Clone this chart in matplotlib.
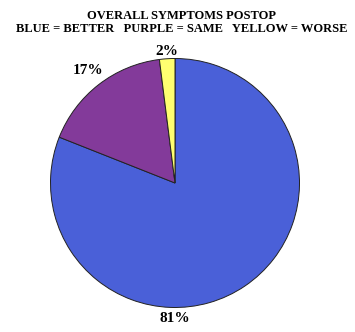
import numpy as np
import matplotlib
matplotlib.use("Agg")
import matplotlib.pyplot as plt

# -------------------------------
# data
# -------------------------------
categories = ["BETTER", "SAME", "WORSE"]
shares = [81, 17, 2]
labels = ["81%", "17%", "2%"]
colors = ["#4a60d8", "#833a9a", "#ffff70"]
# label placement: angle (deg, math convention; None = wedge middle), radius factor
label_angle = [-90, None, None]
label_dist = [1.09, 1.14, 1.06]

W, H = 355, 332
fig = plt.figure(figsize=(W / 100, H / 100), dpi=100)
ax = fig.add_axes([0, 0, 1, 1])

cx, cy, r = 175, H - 183, 124.5
wedges, _ = ax.pie(shares, colors=colors, startangle=90, counterclock=False,
                   center=(cx, cy), radius=r, frame=True,
                   wedgeprops=dict(edgecolor="#222222", linewidth=0.7))
ax.set_xlim(0, W)
ax.set_ylim(0, H)
ax.set_aspect("equal")
ax.axis("off")

font = dict(family="Liberation Serif", fontweight="bold", fontsize=11)
for w, lab, a, d in zip(wedges, labels, label_angle, label_dist):
    if a is None:
        a = (w.theta1 + w.theta2) / 2
    ang = np.deg2rad(a)
    ax.text(cx + r * d * np.cos(ang), cy + r * d * np.sin(ang), lab,
            ha="center", va="center", **font)

tfont = dict(family="Liberation Serif", fontweight="bold", fontsize=9)
ax.text(181.5, H - 16, "OVERALL SYMPTOMS POSTOP", ha="center", va="center", **tfont)
ax.text(181.5, H - 29, "BLUE = BETTER   PURPLE = SAME   YELLOW = WORSE",
        ha="center", va="center", **tfont)

fig.savefig("out.png", dpi=100)
